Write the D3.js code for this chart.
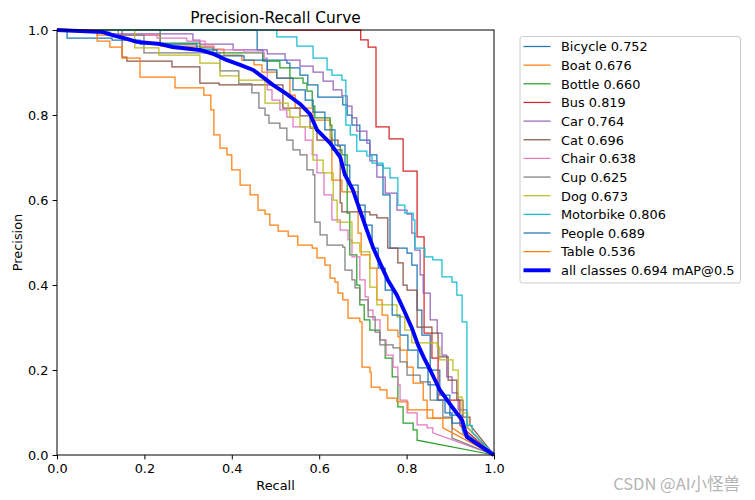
<!DOCTYPE html>
<html>
<head>
<meta charset="utf-8">
<script src="https://cdn.jsdelivr.net/npm/d3@7"></script>
<style>
  html, body { margin: 0; padding: 0; background: #fff; }
  svg { display: block; font-family: "DejaVu Sans", sans-serif; }
</style>
</head>
<body>
<svg id="chart" width="755" height="500"></svg>
<script>
// ---------------- DATA ----------------
const classNames = ["Bicycle","Boat","Bottle","Bus","Car","Cat","Chair","Cup","Dog","Motorbike","People","Table"];
const apValues   = [0.752, 0.676, 0.660, 0.819, 0.764, 0.696, 0.638, 0.625, 0.673, 0.806, 0.689, 0.536];
const meanAP = 0.694;
const recallTicks = [0, 0.2, 0.4, 0.6, 0.8, 1.0];
const precisionTicks = [0, 0.2, 0.4, 0.6, 0.8, 1.0];

// [recall, precision] step points (precision holds until next recall)
const bicycle = [[0,1],[0.458,0.953],[0.471,0.929],[0.526,0.922],[0.533,0.911],[0.556,0.894],[0.574,0.871],[0.597,0.842],[0.654,0.824],[0.664,0.80],[0.675,0.776],[0.693,0.741],[0.716,0.706],[0.732,0.682],[0.746,0.612],[0.762,0.487],[0.801,0.475],[0.812,0.447],[0.824,0.341],[0.835,0.282],[0.854,0.20],[0.876,0.141],[0.899,0.094],[0.927,0.059]];
const boat = [[0,1],[0.092,0.988],[0.236,0.962],[0.359,0.955],[0.382,0.941],[0.423,0.929],[0.451,0.918],[0.469,0.901],[0.503,0.887],[0.533,0.847],[0.545,0.816],[0.586,0.788],[0.625,0.746],[0.629,0.647],[0.652,0.619],[0.689,0.522],[0.696,0.471],[0.716,0.44],[0.732,0.365],[0.744,0.329],[0.757,0.294],[0.78,0.278],[0.785,0.247],[0.801,0.207],[0.815,0.169],[0.838,0.129],[0.847,0.106],[0.86,0.087],[0.904,0.064]];
const bottle = [[0,1],[0.236,0.969],[0.327,0.958],[0.357,0.946],[0.471,0.927],[0.51,0.911],[0.533,0.887],[0.563,0.875],[0.572,0.856],[0.584,0.821],[0.59,0.793],[0.625,0.776],[0.629,0.718],[0.652,0.706],[0.664,0.569],[0.67,0.471],[0.686,0.40],[0.693,0.353],[0.703,0.318],[0.716,0.294],[0.739,0.271],[0.751,0.228],[0.767,0.184],[0.78,0.113],[0.792,0.075],[0.815,0.059],[0.824,0.035]];
const bus = [[0,1],[0.695,0.977],[0.712,0.96],[0.73,0.772],[0.76,0.744],[0.792,0.668],[0.824,0.513],[0.84,0.287],[0.858,0.228],[0.872,0.129],[0.922,0.07]];
const car = [[0,1],[0.053,0.995],[0.121,0.991],[0.311,0.976],[0.327,0.967],[0.403,0.953],[0.481,0.944],[0.522,0.929],[0.556,0.915],[0.586,0.901],[0.609,0.88],[0.632,0.859],[0.652,0.845],[0.664,0.821],[0.675,0.793],[0.686,0.762],[0.709,0.734],[0.716,0.692],[0.732,0.654],[0.751,0.616],[0.778,0.576],[0.801,0.567],[0.812,0.522],[0.819,0.482],[0.831,0.424],[0.838,0.381],[0.854,0.318],[0.87,0.287],[0.881,0.235],[0.892,0.184],[0.904,0.146],[0.918,0.106],[0.938,0.066]];
const cat = [[0,1],[0.149,0.936],[0.16,0.927],[0.263,0.913],[0.327,0.875],[0.371,0.871],[0.517,0.816],[0.556,0.798],[0.579,0.769],[0.595,0.741],[0.643,0.727],[0.648,0.593],[0.652,0.572],[0.716,0.565],[0.732,0.558],[0.757,0.487],[0.78,0.452],[0.792,0.40],[0.801,0.388],[0.824,0.301],[0.858,0.287],[0.872,0.231],[0.895,0.176],[0.915,0.129],[0.929,0.089],[0.945,0.071]];
const chair = [[0,1],[0.114,0.988],[0.229,0.981],[0.297,0.974],[0.339,0.96],[0.359,0.953],[0.428,0.948],[0.474,0.934],[0.481,0.859],[0.492,0.835],[0.51,0.812],[0.526,0.795],[0.54,0.772],[0.568,0.741],[0.584,0.706],[0.595,0.664],[0.611,0.612],[0.629,0.553],[0.648,0.529],[0.666,0.506],[0.675,0.466],[0.693,0.412],[0.705,0.372],[0.712,0.341],[0.723,0.318],[0.739,0.271],[0.753,0.235],[0.769,0.207],[0.78,0.165],[0.785,0.129],[0.801,0.099],[0.824,0.071],[0.847,0.064],[0.86,0.052]];
const cup = [[0,1],[0.14,0.988],[0.199,0.946],[0.373,0.904],[0.416,0.873],[0.446,0.852],[0.462,0.816],[0.476,0.80],[0.485,0.781],[0.51,0.769],[0.526,0.741],[0.54,0.718],[0.556,0.706],[0.572,0.671],[0.586,0.659],[0.59,0.548],[0.602,0.518],[0.618,0.494],[0.654,0.489],[0.659,0.435],[0.675,0.412],[0.682,0.393],[0.693,0.365],[0.712,0.325],[0.728,0.289],[0.739,0.259],[0.769,0.252],[0.785,0.219],[0.801,0.188],[0.831,0.172],[0.854,0.129],[0.883,0.089],[0.904,0.04]];
const dog = [[0,1],[0.178,0.958],[0.233,0.941],[0.327,0.922],[0.373,0.892],[0.416,0.882],[0.476,0.828],[0.529,0.812],[0.533,0.795],[0.556,0.772],[0.586,0.694],[0.609,0.664],[0.632,0.60],[0.641,0.548],[0.675,0.499],[0.693,0.478],[0.716,0.395],[0.732,0.353],[0.778,0.325],[0.796,0.294],[0.812,0.264],[0.87,0.254],[0.876,0.224],[0.906,0.20],[0.918,0.136],[0.927,0.099],[0.94,0.064]];
const motorbike = [[0,1],[0.503,0.984],[0.549,0.962],[0.586,0.934],[0.618,0.906],[0.629,0.894],[0.652,0.882],[0.661,0.776],[0.671,0.753],[0.686,0.715],[0.709,0.704],[0.721,0.687],[0.746,0.675],[0.762,0.652],[0.78,0.588],[0.796,0.569],[0.815,0.553],[0.819,0.487],[0.842,0.466],[0.86,0.459],[0.881,0.419],[0.904,0.407],[0.915,0.376],[0.927,0.313],[0.938,0.07],[0.95,0.054]];
const people = [[0,1],[0.023,0.981],[0.126,0.976],[0.19,0.967],[0.32,0.953],[0.366,0.939],[0.428,0.929],[0.481,0.906],[0.503,0.887],[0.54,0.859],[0.568,0.835],[0.586,0.807],[0.613,0.765],[0.636,0.729],[0.659,0.682],[0.67,0.635],[0.689,0.588],[0.705,0.541],[0.721,0.487],[0.735,0.44],[0.751,0.388],[0.767,0.329],[0.785,0.282],[0.803,0.247],[0.826,0.205],[0.849,0.165],[0.87,0.129],[0.888,0.099],[0.904,0.075],[0.929,0.052]];
const table = [[0,1],[0.092,0.974],[0.121,0.96],[0.149,0.934],[0.19,0.889],[0.27,0.864],[0.336,0.847],[0.352,0.812],[0.359,0.753],[0.373,0.722],[0.389,0.706],[0.40,0.671],[0.419,0.635],[0.442,0.612],[0.46,0.576],[0.476,0.567],[0.487,0.541],[0.506,0.527],[0.529,0.515],[0.551,0.494],[0.584,0.487],[0.595,0.464],[0.613,0.447],[0.625,0.416],[0.636,0.407],[0.643,0.381],[0.654,0.365],[0.666,0.322],[0.693,0.313],[0.698,0.207],[0.716,0.195],[0.719,0.16],[0.739,0.153],[0.755,0.134],[0.778,0.125],[0.803,0.106],[0.847,0.087],[0.883,0.064]];
// mean curve over all classes (smooth)
const allClasses = [[0,1],[0.105,0.995],[0.133,0.986],[0.16,0.979],[0.183,0.972],[0.236,0.967],[0.265,0.96],[0.327,0.953],[0.357,0.944],[0.389,0.929],[0.419,0.918],[0.449,0.906],[0.471,0.889],[0.494,0.871],[0.526,0.849],[0.556,0.826],[0.579,0.802],[0.595,0.765],[0.625,0.734],[0.648,0.701],[0.659,0.659],[0.677,0.624],[0.693,0.576],[0.709,0.529],[0.723,0.489],[0.739,0.452],[0.757,0.412],[0.778,0.376],[0.796,0.336],[0.812,0.299],[0.826,0.259],[0.84,0.228],[0.854,0.20],[0.876,0.153],[0.904,0.113],[0.927,0.082],[0.938,0.042],[1,0]];

const classCurves = [bicycle, boat, bottle, bus, car, cat, chair, cup, dog, motorbike, people, table];
const palette = ["#1f77b4","#ff7f0e","#2ca02c","#d62728","#9467bd","#8c564b","#e377c2","#7f7f7f","#bcbd22","#17becf"];

// ---------------- CHART ----------------
const svg = d3.select("#chart");
svg.append("rect").attr("width",755).attr("height",500).attr("fill","#fff");

const x = d3.scaleLinear().domain([0,1]).range([57,494]);
const y = d3.scaleLinear().domain([0,1]).range([455,30]);

const fs = 12.9;

function stepCorners(pts){
  const out = [];
  pts.forEach((d,i)=>{
    if(i>0) out.push([d[0], pts[i-1][1]]);
    out.push(d);
  });
  out.push([1,0]);
  return out;
}
const line = d3.line().x(d=>x(d[0])).y(d=>y(d[1]));

svg.append("defs").append("clipPath").attr("id","clip")
  .append("rect").attr("x",57).attr("y",28).attr("width",439).attr("height",429);

const plot = svg.append("g").attr("clip-path","url(#clip)");
classCurves.forEach((c,i)=>{
  plot.append("path")
    .attr("d", line(stepCorners(c)))
    .attr("fill","none")
    .attr("stroke", palette[i % 10])
    .attr("stroke-width",1.25)
    .attr("stroke-linejoin","miter");
});
plot.append("path")
  .attr("d", line(allClasses))
  .attr("fill","none")
  .attr("stroke","#0000ff")
  .attr("stroke-width",3.9)
  .attr("stroke-linejoin","round");

// axes
const fmt = d3.format(".1f");
const xAxis = svg.append("g").attr("transform","translate(0,455)")
  .call(d3.axisBottom(x).tickValues(recallTicks).tickFormat(fmt).tickSize(4.4).tickPadding(4.2));
const yAxis = svg.append("g").attr("transform","translate(57,0)")
  .call(d3.axisLeft(y).tickValues(precisionTicks).tickFormat(fmt).tickSize(4.4).tickPadding(4.2));
[xAxis,yAxis].forEach(a=>{
  a.select(".domain").remove();
  a.selectAll("line").attr("stroke","#000").attr("stroke-width",1);
  a.selectAll("text").attr("font-size",fs).attr("fill","#000").attr("font-family","DejaVu Sans");
});

// frame
svg.append("rect").attr("x",57).attr("y",30).attr("width",437).attr("height",425)
  .attr("fill","none").attr("stroke","#000").attr("stroke-width",1);

// labels
svg.append("text").attr("x",275.5).attr("y",23).attr("text-anchor","middle")
  .attr("font-size",15.4).text("Precision-Recall Curve");
svg.append("text").attr("x",275.5).attr("y",489.5).attr("text-anchor","middle")
  .attr("font-size",fs).text("Recall");
svg.append("text").attr("transform","translate(22,242.5) rotate(-90)").attr("text-anchor","middle")
  .attr("font-size",fs).text("Precision");

// legend
const lg = svg.append("g");
lg.append("rect").attr("x",520).attr("y",36.5).attr("width",220.5).attr("height",246.5)
  .attr("rx",2.5).attr("fill","#fff").attr("fill-opacity",0.8)
  .attr("stroke","#cccccc").attr("stroke-width",1);
const entries = classNames.map((n,i)=>({label:`${n} ${apValues[i].toFixed(3)}`, color: palette[i%10], w:1.25}));
entries.push({label:`all classes ${meanAP.toFixed(3)} mAP@0.5`, color:"#0000ff", w:3.9});
entries.forEach((e,i)=>{
  const by = 51.3 + i*18.65;
  lg.append("line").attr("x1",523.5).attr("x2",550.5).attr("y1",by-4.8).attr("y2",by-4.8)
    .attr("stroke",e.color).attr("stroke-width",e.w);
  lg.append("text").attr("x",561).attr("y",by).attr("font-size",fs).text(e.label);
});

// watermark
svg.append("text").attr("x",740).attr("y",489.5).attr("text-anchor","end")
  .attr("font-family","'Noto Sans CJK SC', sans-serif").attr("font-size",16.5)
  .attr("fill","#b4b4b4").text("CSDN @AI小怪兽");
</script>
</body>
</html>
